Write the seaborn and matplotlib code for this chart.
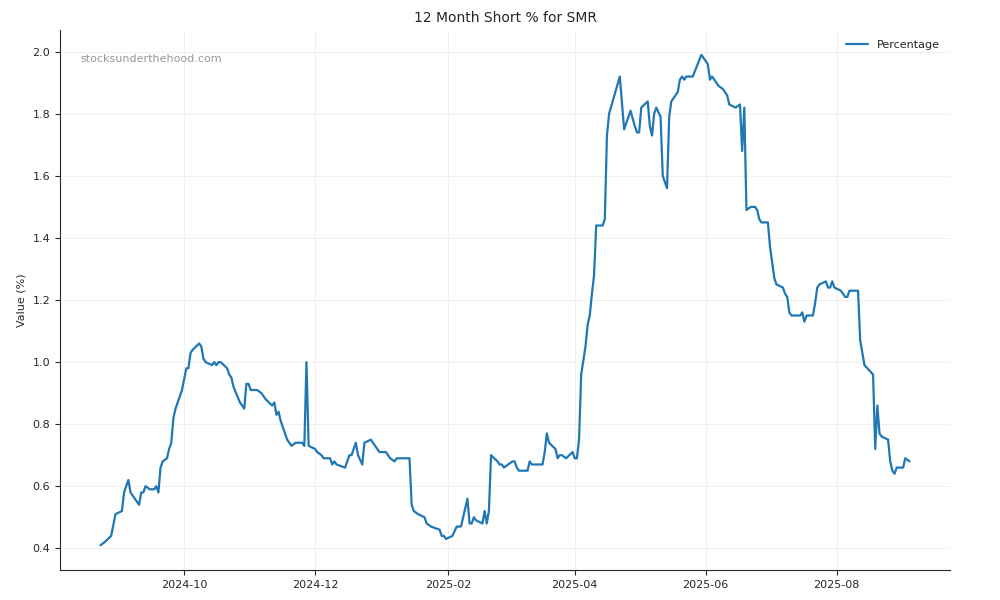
import pandas as pd
import matplotlib
matplotlib.use("Agg")
import matplotlib.pyplot as plt
import matplotlib.dates as mdates
import seaborn as sns

# --- DADOS ---
START_DATE = "2024-08-23"
day_offsets = [
    0, 2, 5, 7, 10, 11, 13, 14, 16, 18, 19, 20, 21, 23, 25, 26, 27, 28, 29, 31,
    32, 33, 34, 35, 38, 40, 41, 42, 43, 46, 47, 48, 49, 52, 53, 54, 55, 56, 59, 60,
    61, 62, 65, 67, 68, 69, 70, 73, 75, 77, 80, 81, 82, 83, 84, 87, 89, 91, 94, 95,
    96, 97, 100, 101, 103, 104, 107, 108, 109, 110, 114, 116, 117, 119, 120, 122, 123, 126, 128, 130,
    133, 135, 137, 138, 144, 145, 146, 148, 151, 152, 154, 158, 159, 160, 161, 164, 166, 168, 171, 172,
    173, 174, 175, 178, 179, 180, 181, 182, 185, 186, 187, 188, 190, 192, 193, 194, 195, 199, 200, 201,
    206, 207, 208, 209, 212, 213, 214, 215, 217, 220, 221, 222, 223, 224, 226, 227, 228, 229, 230, 231,
    234, 235, 236, 237, 242, 244, 247, 249, 250, 251, 252, 255, 256, 257, 258, 259, 261, 262, 264, 265,
    266, 269, 270, 271, 272, 273, 276, 280, 283, 284, 285, 288, 290, 292, 293, 296, 298, 299, 300, 301,
    303, 305, 306, 307, 308, 311, 312, 314, 315, 318, 319, 320, 321, 322, 326, 327, 328, 329, 332, 333,
    334, 335, 338, 339, 340, 341, 342, 345, 347, 348, 349, 353, 354, 356, 360, 361, 362, 363, 364, 367,
    368, 369, 370, 371, 374, 375, 377,
]
percentage = [
    0.41, 0.42, 0.44, 0.51, 0.52, 0.58, 0.62, 0.58, 0.56, 0.54, 0.58, 0.58, 0.60, 0.59, 0.59, 0.60, 0.58, 0.66, 0.68, 0.69,
    0.72, 0.74, 0.82, 0.85, 0.91, 0.98, 0.98, 1.03, 1.04, 1.06, 1.05, 1.01, 1.00, 0.99, 1.00, 0.99, 1.00, 1.00, 0.98, 0.96,
    0.95, 0.92, 0.87, 0.85, 0.93, 0.93, 0.91, 0.91, 0.90, 0.88, 0.86, 0.87, 0.83, 0.84, 0.81, 0.75, 0.73, 0.74, 0.74, 0.73,
    1.00, 0.73, 0.72, 0.71, 0.70, 0.69, 0.69, 0.67, 0.68, 0.67, 0.66, 0.70, 0.70, 0.74, 0.70, 0.67, 0.74, 0.75, 0.73, 0.71,
    0.71, 0.69, 0.68, 0.69, 0.69, 0.54, 0.52, 0.51, 0.50, 0.48, 0.47, 0.46, 0.44, 0.44, 0.43, 0.44, 0.47, 0.47, 0.56, 0.48,
    0.48, 0.50, 0.49, 0.48, 0.52, 0.48, 0.52, 0.70, 0.68, 0.67, 0.67, 0.66, 0.67, 0.68, 0.68, 0.66, 0.65, 0.65, 0.68, 0.67,
    0.67, 0.71, 0.77, 0.74, 0.72, 0.69, 0.70, 0.70, 0.69, 0.71, 0.69, 0.69, 0.75, 0.96, 1.05, 1.12, 1.15, 1.22, 1.28, 1.44,
    1.44, 1.46, 1.73, 1.80, 1.92, 1.75, 1.81, 1.76, 1.74, 1.74, 1.82, 1.84, 1.76, 1.73, 1.80, 1.82, 1.79, 1.60, 1.56, 1.79,
    1.84, 1.87, 1.91, 1.92, 1.91, 1.92, 1.92, 1.99, 1.96, 1.91, 1.92, 1.89, 1.88, 1.86, 1.83, 1.82, 1.83, 1.68, 1.82, 1.49,
    1.50, 1.50, 1.49, 1.46, 1.45, 1.45, 1.37, 1.27, 1.25, 1.24, 1.22, 1.21, 1.16, 1.15, 1.15, 1.16, 1.13, 1.15, 1.15, 1.19,
    1.24, 1.25, 1.26, 1.24, 1.24, 1.26, 1.24, 1.23, 1.21, 1.21, 1.23, 1.23, 1.07, 0.99, 0.96, 0.72, 0.86, 0.77, 0.76, 0.75,
    0.68, 0.65, 0.64, 0.66, 0.66, 0.69, 0.68,
]

df = pd.DataFrame({
    "Date": pd.to_datetime(START_DATE) + pd.to_timedelta(day_offsets, unit="D"),
    "Percentage": percentage,
})

# --- GRÁFICO ---
sns.set_style("ticks")
fig, ax = plt.subplots(figsize=(10, 6), dpi=100)
sns.lineplot(data=df, x="Date", y="Percentage", ax=ax, color="#1f77b4",
             linewidth=1.6, label="Percentage")

ax.set_title("12 Month Short % for SMR", fontsize=10)
ax.set_xlabel("")
ax.set_ylabel("Value (%)", fontsize=8)
ax.tick_params(labelsize=8)
ax.xaxis.set_major_locator(mdates.MonthLocator(bymonth=[2, 4, 6, 8, 10, 12]))
ax.xaxis.set_major_formatter(mdates.DateFormatter("%Y-%m"))
ax.set_ylim(0.33, 2.07)
ax.grid(True, color="#eeeeee", linewidth=0.6)
sns.despine(ax=ax)
ax.legend(loc="upper right", frameon=False, fontsize=8)
ax.text(0.023, 0.955, "stocksunderthehood.com", transform=ax.transAxes,
        fontsize=8, color="#999999", ha="left", va="top")

plt.subplots_adjust(left=0.06, right=0.95, top=0.95, bottom=0.05)
plt.savefig("out.png")
plt.close("all")
